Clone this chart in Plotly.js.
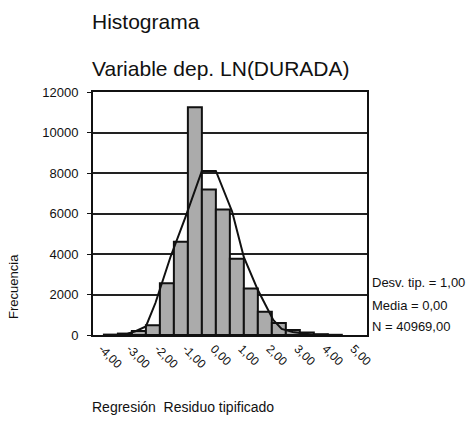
<!DOCTYPE html>
<html>
<head>
<meta charset="utf-8">
<script src="https://cdn.plot.ly/plotly-3.0.1.min.js"></script>
<style>html,body{margin:0;padding:0;background:#fff;}#chart{width:474px;height:425px;}</style>
</head>
<body>
<div id="chart"></div>
<script>
// Bin centres (standardized residual) and frequencies
var binCenters = [-3.5, -3.0, -2.5, -2.0, -1.5, -1.0, -0.5, 0.0, 0.5, 1.0, 1.5, 2.0, 2.5, 3.0, 3.5, 4.0, 4.5];
var frequencies = [20, 70, 200, 480, 2550, 4600, 11250, 7190, 6200, 3770, 2300, 1150, 590, 250, 120, 40, 10];
// Normal curve as drawn
var curveX = [-3.2, -2.9, -2.6, -2.25, -1.91, -1.375, -0.84, -0.25, 0.25, 0.83, 1.25, 1.75, 2.3, 2.6, 3.0, 3.4, 3.8];
var curveY = [0, 60, 200, 420, 1580, 3840, 5810, 8100, 8100, 6100, 3840, 2220, 740, 300, 150, 60, 0];
var tickVals = [-4, -3, -2, -1, 0, 1, 2, 3, 4, 5];
var tickLabels = ['-4,00', '-3,00', '-2,00', '-1,00', '0,00', '1,00', '2,00', '3,00', '4,00', '5,00'];
var yTicks = [0, 2000, 4000, 6000, 8000, 10000, 12000];
var yTickLabels = ['0', '2000', '4000', '6000', '8000', '10000', '12000'];
var statLines = ['Desv. tip. = 1,00', 'Media = 0,00', 'N = 40969,00'];

var F = '"Liberation Sans", Arial, sans-serif';
var traces = [
  {type: 'bar', x: binCenters, y: frequencies, width: 0.5,
   marker: {color: '#ababab', line: {color: '#111', width: 2}}, hoverinfo: 'none'},
  {type: 'scatter', mode: 'lines', x: curveX, y: curveY,
   line: {color: '#111', width: 2}, hoverinfo: 'none'}
];
var statY = [0.214, 0.123, 0.033];
var anns = [
  {text: 'Histograma', xref: 'paper', yref: 'paper', x: -0.012, y: 1.292, xanchor: 'left', yanchor: 'middle', showarrow: false, font: {family: F, size: 21, color: '#111'}},
  {text: 'Variable dep. LN(DURADA)', xref: 'paper', yref: 'paper', x: -0.012, y: 1.097, xanchor: 'left', yanchor: 'middle', showarrow: false, font: {family: F, size: 21, color: '#111'}},
  {text: 'Regresión  Residuo tipificado', xref: 'paper', yref: 'paper', x: -0.012, y: -0.296, xanchor: 'left', yanchor: 'middle', showarrow: false, font: {family: F, size: 14, color: '#111'}},
  {text: 'Frecuencia', xref: 'paper', yref: 'paper', x: -0.29, y: 0.2, xanchor: 'center', yanchor: 'middle', textangle: -90, showarrow: false, font: {family: F, size: 13, color: '#111'}}
];
statLines.forEach(function (s, i) {
  anns.push({text: s, xref: 'paper', yref: 'paper', x: 1.012, y: statY[i], xanchor: 'left', yanchor: 'middle', showarrow: false, font: {family: F, size: 13, color: '#111'}});
});
var layout = {
  width: 474, height: 425,
  margin: {l: 93, r: 107, t: 92, b: 90, pad: 0},
  paper_bgcolor: '#fff', plot_bgcolor: '#fff',
  showlegend: false, bargap: 0,
  font: {family: F, size: 12, color: '#111'},
  xaxis: {range: [-4.14, 5.65], tickvals: tickVals, ticktext: tickLabels, tickangle: 45,
          showgrid: false, zeroline: false, showline: true, linecolor: '#111', linewidth: 2, mirror: true,
          ticks: '', ticklabelshift: 5, tickfont: {family: F, size: 12, color: '#111'}, fixedrange: true},
  yaxis: {range: [0, 12000], tickvals: yTicks, ticktext: yTickLabels, showgrid: true, gridcolor: '#222', gridwidth: 2,
          zeroline: false, showline: true, linecolor: '#111', linewidth: 2, mirror: true,
          ticks: 'outside', ticklen: 4, tickcolor: '#111', ticklabelstandoff: 6,
          tickfont: {family: F, size: 13, color: '#111'}, fixedrange: true},
  annotations: anns
};
Plotly.newPlot('chart', traces, layout, {displayModeBar: false, staticPlot: true});
</script>
</body>
</html>
